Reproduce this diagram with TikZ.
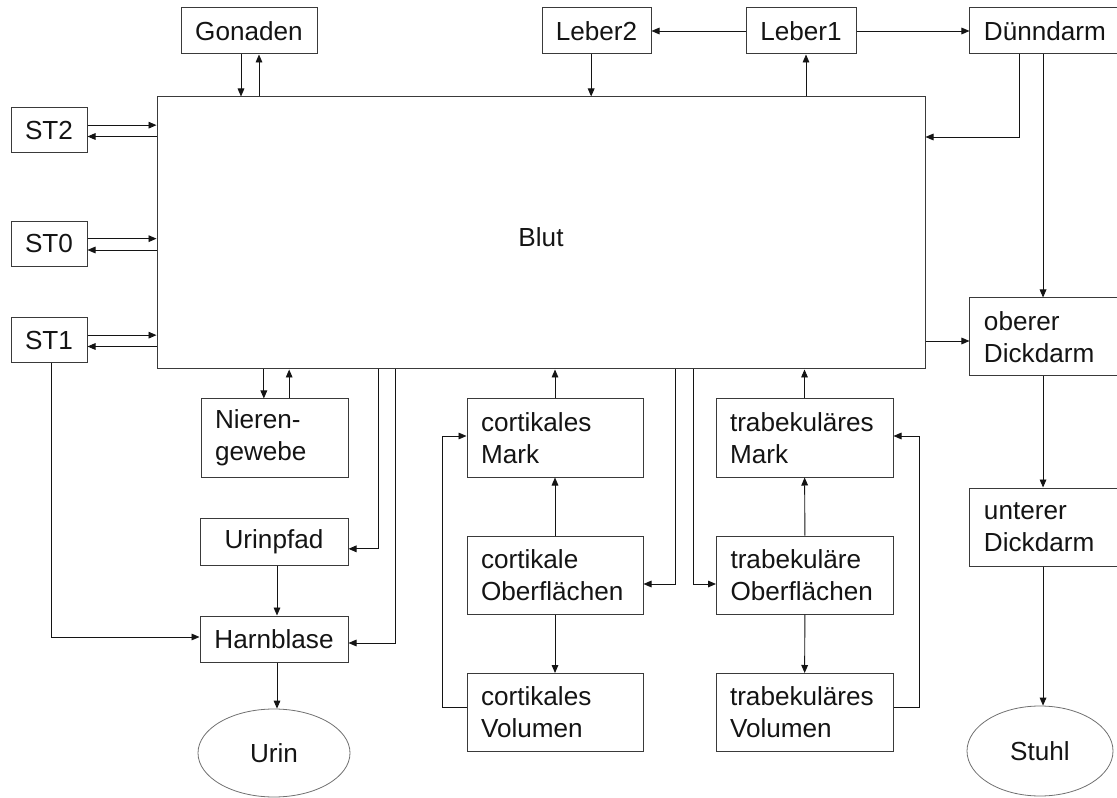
\documentclass[tikz,border=0pt]{standalone}
\usepackage{fontspec}
\setmainfont{Liberation Sans}
\usepackage{xcolor}
\usetikzlibrary{arrows.meta,calc,positioning,shapes.geometric}
\definecolor{PoolInk}{HTML}{141414}
\definecolor{PoolEdge}{HTML}{3A3A3A}
\definecolor{SinkEdge}{HTML}{707070}

\begin{document}
\begin{tikzpicture}[x=0.75pt,y=-0.75pt,>={Triangle[length=6pt,width=5pt]},
  font=\fontsize{19.6}{24}\selectfont,
  pool/.style={draw=PoolEdge,line width=0.75pt,rectangle,inner sep=0pt,
    minimum height=34.5pt,text=PoolInk},
  pooltwo/.style={pool,text width=#1,align=left,inner xsep=10.5pt,minimum height=58.5pt},
  sink/.style={draw=SinkEdge,line width=0.6pt,ellipse,inner sep=0pt,text=PoolInk},
  flow/.style={->,line width=0.7pt,PoolInk}]
  \useasboundingbox (0,0) rectangle (1117,798);

  \node[pool,minimum width=576pt,minimum height=204pt,text height=21pt,text depth=0pt] (blut) at (541,233) {Blut};
  \node[pool,minimum width=102pt] (gon) at (249,31) {Gonaden};
  \node[pool,minimum width=81.75pt] (leb2) at (596.5,31) {Leber2};
  \node[pool,minimum width=82.5pt] (leb1) at (801,31) {Leber1};
  \node[pool,minimum width=116pt] (duen) at (1047.3,31) {\hspace*{-3.5pt}Dünndarm};
  \node[pool,minimum width=57pt,minimum height=33.75pt] (st2) at (49,130.5) {ST2};
  \node[pool,minimum width=57pt,minimum height=33.75pt] (st0) at (49,244) {ST0};
  \node[pool,minimum width=57pt,minimum height=33.75pt] (st1) at (49,340.5) {ST1};
  \node[pooltwo=89.25pt] (niere) at (274.5,438) {Nieren-\\gewebe};
  \node[pool,minimum width=111pt,minimum height=35.25pt] (upfad) at (274,541.5) {Urinpfad};
  \node[pool,minimum width=111pt,minimum height=34.5pt] (blase) at (274,639) {Harnblase};
  \node[sink,minimum width=114pt,minimum height=66pt] (urin) at (274,753) {Urin};
  \node[pooltwo=111pt] (cmark) at (555,438) {cortikales\\Mark};
  \node[pooltwo=111pt] (cober) at (555,575) {cortikale\\Oberflächen};
  \node[pooltwo=111pt] (cvol) at (555,712.5) {cortikales\\Volumen};
  \node[pooltwo=111.75pt] (tmark) at (804.5,438) {trabekuläres\\Mark};
  \node[pooltwo=111.75pt] (tober) at (805,575) {trabekuläre\\Oberflächen};
  \node[pooltwo=111.75pt] (tvol) at (804.5,712.5) {trabekuläres\\Volumen};
  \node[pooltwo=95pt] (ober) at (1047.3,337) {oberer\\Dickdarm};
  \node[pooltwo=95pt] (unter) at (1047.3,527) {unterer\\Dickdarm};
  \node[sink,minimum width=109.5pt,minimum height=67.5pt] (stuhl) at (1040,751) {Stuhl};

  % Austausch mit dem Blut
  \draw[flow] ([xshift=-6pt]gon.south) -- ([xshift=-6pt]gon.south |- blut.north);
  \draw[flow] ([xshift=7.5pt]gon.south |- blut.north) -- ([xshift=7.5pt]gon.south);
  \foreach \s in {st2,st0,st1} {
    \draw[flow] ([yshift=4pt]\s.east) -- ([yshift=4pt]\s.east -| blut.west);
    \draw[flow] ([yshift=-4.5pt]\s.east -| blut.west) -- ([yshift=-4.5pt]\s.east);
  }
  \draw[flow] (leb1) -- (leb2);
  \draw[flow] (leb1) -- (duen);
  \draw[flow] ([xshift=-4pt]leb2.south) -- ([xshift=-4pt]leb2.south |- blut.north);
  \draw[flow] ([xshift=3.75pt]leb1.south |- blut.north) -- ([xshift=3.75pt]leb1.south);
  \draw[flow] ([xshift=-21.2pt]duen.south) |- ([yshift=72pt]blut.east);
  \draw[flow] ([xshift=-3.2pt]duen.south) -- ([xshift=-3.2pt]ober.north);
  \draw[flow] ([yshift=-3pt]ober.west -| blut.east) -- ([yshift=-3pt]ober.west);
  \draw[flow] ([xshift=-3.2pt]ober.south) -- ([xshift=-3.2pt]unter.north);
  \draw[flow] ([xshift=-3.2pt]unter.south) -- ([xshift=-3.2pt]unter.south |- stuhl.north);

  % Niere und Harnwege
  \draw[flow] ([xshift=-8pt]niere.north |- blut.south) -- ([xshift=-8pt]niere.north);
  \draw[flow] ([xshift=11pt]niere.north) -- ([xshift=11pt]niere.north |- blut.south);
  \draw[flow] ([xshift=22.5pt]upfad.east |- blut.south) |- ([yshift=-5.5pt]upfad.east);
  \draw[flow] ([xshift=35.25pt]blase.east |- blut.south) |- ([yshift=-3pt]blase.east);
  \draw[flow] ([xshift=1.5pt]st1.south) |- ([yshift=1.5pt]blase.west);
  \draw[flow] ([xshift=2.25pt]upfad.south) -- ([xshift=2.25pt]blase.north);
  \draw[flow] ([xshift=2.25pt]blase.south) -- ([xshift=2.25pt]blase.south |- urin.north);

  % Knochen
  \draw[flow] (cmark.north) -- (cmark.north |- blut.south);
  \draw[flow] (cober) -- (cmark);
  \draw[flow] (cober) -- (cvol);
  \draw[flow] ([xshift=24pt]cober.east |- blut.south) |- ([yshift=-6.75pt]cober.east);
  \draw[flow] ([yshift=3.5pt]cvol.west) -| ([xshift=-18pt]cmark.west) |- ([yshift=1.5pt]cmark.west);
  \draw[flow] (tmark.north) -- (tmark.north |- blut.south);
  \draw[flow] (tober) -- (tmark);
  \draw[flow] (tober) -- (tvol);
  \draw[flow] ([xshift=-17.25pt]tober.west |- blut.south) |- ([yshift=-6.75pt]tober.west);
  \draw[flow] ([yshift=3.5pt]tvol.east) -| ([xshift=19.5pt]tmark.east) |- ([yshift=1.5pt]tmark.east);
\end{tikzpicture}
\end{document}
